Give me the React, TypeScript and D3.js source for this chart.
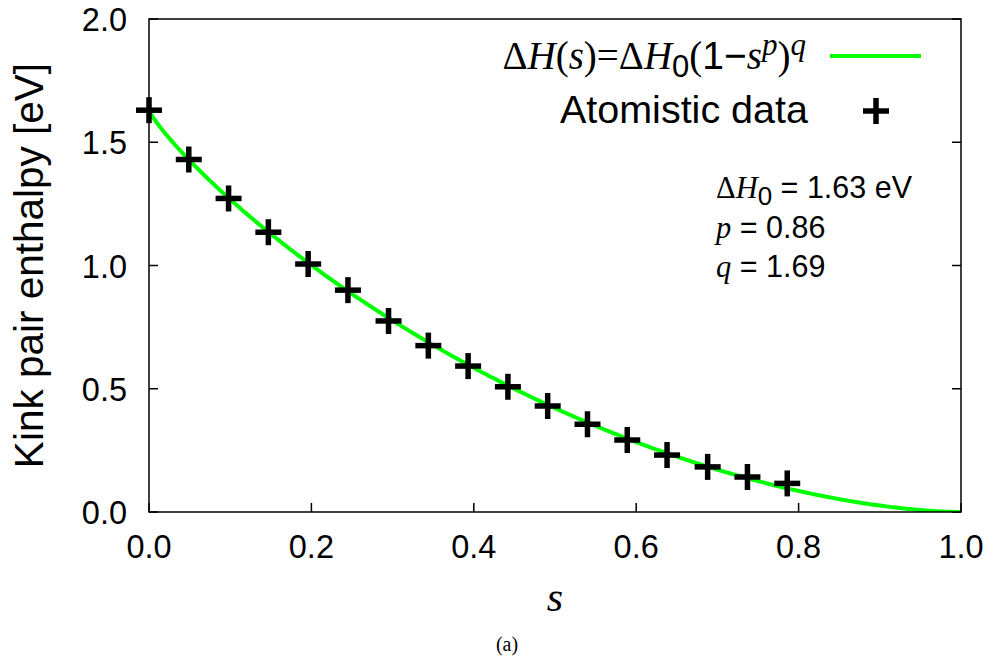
import React from "react";
import * as d3 from "d3";

// Atomistic data
const sValues = [0, 0.049, 0.098, 0.147, 0.196, 0.245, 0.295, 0.344, 0.393, 0.442, 0.491, 0.540, 0.589, 0.638, 0.688, 0.737, 0.786];
const hValues = [1.63, 1.43, 1.272, 1.135, 1.006, 0.9, 0.775, 0.675, 0.592, 0.508, 0.43, 0.356, 0.292, 0.231, 0.183, 0.142, 0.116];

// Fit parameters shown on the chart
const H0 = 1.63;
const P = 0.86;
const Q = 1.69;

const xTicks = [0, 0.2, 0.4, 0.6, 0.8, 1.0];
const yTicks = [0, 0.5, 1.0, 1.5, 2.0];

const W = 989;
const H = 663;
const M = { left: 149, right: 961, top: 19, bottom: 512 };

const SANS = "'Liberation Sans', Arial, Helvetica, sans-serif";
const SERIF = "'Liberation Serif', 'Times New Roman', Times, serif";

export default function App() {
  const x = d3.scaleLinear().domain([0, 1]).range([M.left, M.right]);
  const y = d3.scaleLinear().domain([0, 2]).range([M.bottom, M.top]);

  const fitS = d3.range(0, 1.00001, 0.0025);
  const fitLine = d3
    .line<number>()
    .x((s) => x(s))
    .y((s) => y(H0 * Math.pow(Math.max(0, 1 - Math.pow(s, P)), Q)))(fitS) as string;

  const tickLen = 9;
  const arm = 13;

  const plus = (cx: number, cy: number, key: any) => (
    <g key={key}>
      <line x1={cx - arm} x2={cx + arm} y1={cy} y2={cy} stroke="#000" strokeWidth={5.5} />
      <line x1={cx} x2={cx} y1={cy - arm} y2={cy + arm} stroke="#000" strokeWidth={5.5} />
    </g>
  );

  return (
    <svg
      width={W}
      height={H}
      style={{ position: "absolute", left: 0, top: 0, background: "#fff" }}
    >
      <rect x={0} y={0} width={W} height={H} fill="#fff" />
      <defs>
        <clipPath id="plotclip">
          <rect x={M.left} y={M.top} width={M.right - M.left} height={M.bottom - M.top} />
        </clipPath>
      </defs>

      {/* ticks */}
      {xTicks.map((t, i) => (
        <g key={"xt" + i}>
          <line x1={x(t)} x2={x(t)} y1={M.bottom} y2={M.bottom - tickLen} stroke="#000" strokeWidth={1.5} />
          <text x={x(t)} y={M.bottom + 46} fontFamily={SANS} fontSize={32.5} textAnchor="middle" fill="#000">
            {d3.format(".1f")(t)}
          </text>
        </g>
      ))}
      {yTicks.map((t, i) => (
        <g key={"yt" + i}>
          <line x1={M.left} x2={M.left + tickLen} y1={y(t)} y2={y(t)} stroke="#000" strokeWidth={1.5} />
          <line x1={M.right} x2={M.right - tickLen} y1={y(t)} y2={y(t)} stroke="#000" strokeWidth={1.5} />
          <text x={127} y={y(t) + 12} fontFamily={SANS} fontSize={32.5} textAnchor="end" fill="#000">
            {d3.format(".1f")(t)}
          </text>
        </g>
      ))}

      {/* fit curve */}
      <path d={fitLine} fill="none" stroke="#00ff00" strokeWidth={4} clipPath="url(#plotclip)" />

      {/* data points */}
      {sValues.map((s, i) => plus(x(s), y(hValues[i]), i))}

      {/* frame */}
      <rect
        x={M.left}
        y={M.top}
        width={M.right - M.left}
        height={M.bottom - M.top}
        fill="none"
        stroke="#000"
        strokeWidth={1.5}
      />

      {/* legend */}
      <text x={806} y={69} fontSize={39} textAnchor="end" fill="#000" fontFamily={SERIF}>
        <tspan>Δ</tspan>
        <tspan fontStyle="italic">H</tspan>
        <tspan>(</tspan>
        <tspan fontStyle="italic">s</tspan>
        <tspan>)=Δ</tspan>
        <tspan fontStyle="italic">H</tspan>
        <tspan fontFamily={SANS} fontSize={31} dy={8}>0</tspan>
        <tspan dy={-8}>(</tspan>
        <tspan fontFamily={SANS}>1−</tspan>
        <tspan fontStyle="italic">s</tspan>
        <tspan fontStyle="italic" fontSize={31} dy={-14}>p</tspan>
        <tspan dy={14}>)</tspan>
        <tspan fontStyle="italic" fontSize={31} dy={-14}>q</tspan>
      </text>
      <line x1={830} x2={921} y1={56} y2={56} stroke="#00ff00" strokeWidth={4} />

      <text x={808} y={123} fontSize={39.5} textAnchor="end" fill="#000" fontFamily={SANS}>
        Atomistic data
      </text>
      {plus(876, 111, "legplus")}

      {/* parameters */}
      <text x={716} y={198} fontSize={30.5} fill="#000" fontFamily={SANS}>
        <tspan fontFamily={SERIF}>Δ</tspan>
        <tspan fontFamily={SERIF} fontStyle="italic">H</tspan>
        <tspan fontSize={26} dy={7}>0</tspan>
        <tspan dy={-7}>{` = ${H0.toFixed(2)} eV`}</tspan>
      </text>
      <text x={716} y={238} fontSize={30.5} fill="#000" fontFamily={SANS}>
        <tspan fontFamily={SERIF} fontStyle="italic">p</tspan>
        <tspan>{` = ${P.toFixed(2)}`}</tspan>
      </text>
      <text x={716} y={277} fontSize={30.5} fill="#000" fontFamily={SANS}>
        <tspan fontFamily={SERIF} fontStyle="italic">q</tspan>
        <tspan>{` = ${Q.toFixed(2)}`}</tspan>
      </text>

      {/* axis labels */}
      <text
        transform={`translate(43, ${(M.top + M.bottom) / 2}) rotate(-90)`}
        fontSize={40.5}
        textAnchor="middle"
        fill="#000"
        fontFamily={SANS}
      >
        Kink pair enthalpy [eV]
      </text>
      <text x={555} y={611} fontSize={42} fontStyle="italic" textAnchor="middle" fill="#000" fontFamily={SERIF}>
        s
      </text>
      <text x={507} y={651} fontSize={20} textAnchor="middle" fill="#000" fontFamily={SERIF}>
        (a)
      </text>
    </svg>
  );
}
